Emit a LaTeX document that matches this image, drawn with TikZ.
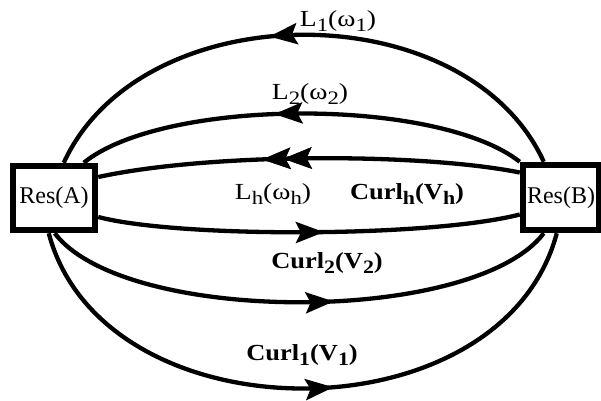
\documentclass[tikz,border=0pt]{standalone}
\usepackage{fontspec}
\usepackage{graphicx}
\setmainfont{Liberation Serif}
\usetikzlibrary{arrows.meta,decorations.markings,calc}
\newcommand\lowsub[1]{\raisebox{-5pt}{\fontsize{19}{19}\selectfont #1}}
\tikzset{
  resbox/.style={draw, line width=6.5pt, inner sep=0pt, font=\fontsize{24}{24}\selectfont},
  link/.style={line width=4.3pt},
  tipat/.style={postaction={decorate}, decoration={markings,
     mark=at position #1 with {\arrow{Stealth[length=28pt,width=21pt,inset=5pt]}}}},
  lbl/.style={inner sep=0pt, font=\fontsize{23}{23}\selectfont},
}
\begin{document}
\begin{tikzpicture}[x=1pt,y=-1pt]
\useasboundingbox (0,0) rectangle (601,400);
\fill[white] (0,0) rectangle (601,400);
\node[resbox, minimum width=82pt, minimum height=64pt] (A) at (54,198) {Res(A)};
\node[resbox, minimum width=76pt, minimum height=65pt] (B) at (561,197.5) {Res(B)};
% named end points on the boxes
\coordinate (a1) at ($(A.north west)+(54,0)$);
\coordinate (a2) at ($(A.north west)+(74,0)$);
\coordinate (a3) at ($(A.east)+(0,-21)$);
\coordinate (a4) at ($(A.east)+(0,19)$);
\coordinate (a5) at ($(A.south west)+(45,0)$);
\coordinate (a6) at ($(A.south west)+(39,0)$);
\coordinate (b1) at ($(B.north west)+(24,0)$);
\coordinate (b2) at ($(B.north west)+(0,0)$);
\coordinate (b3) at ($(B.west)+(0,-25)$);
\coordinate (b4) at ($(B.west)+(0,17)$);
\coordinate (b5) at ($(B.south west)+(24,0)$);
\coordinate (b6) at ($(B.south west)+(37,0)$);
% upper family (B to A)
\draw[link, tipat=0.56] (b1) .. controls +(-78,-170) and +(78,-170) .. (a1);
\draw[link, tipat=0.56] (b2) .. controls +(-83,-65) and +(80,-65) .. (a2);
\draw[link, tipat=0.61, tipat=0.56] (b3) .. controls +(-100,-20) and +(110,-24) .. (a3);
% lower family (A to B)
\draw[link, tipat=0.535] (a4) .. controls +(80,21) and +(-90,23) .. (b4);
\draw[link, tipat=0.566] (a5) .. controls +(70,92) and +(-70,92) .. (b5);
\draw[link, tipat=0.548] (a6) .. controls +(55,207) and +(-55,207) .. (b6);
% labels
\node[lbl] (l1) at (338,21) {\scalebox{1.2}[1]{L\lowsub{1}(ω\lowsub{1})}};
\node[lbl] (l2) at (310,94) {\scalebox{1.2}[1]{L\lowsub{2}(ω\lowsub{2})}};
\node[lbl] (lh) at (273,194) {\scalebox{1.2}[1]{L\lowsub{h}(ω\lowsub{h})}};
\node[lbl] (ch) at (407,194) {\scalebox{1.15}[1]{\bfseries Curl\lowsub{h}(V\lowsub{h})}};
\node[lbl] (c2) at (327,263) {\scalebox{1.15}[1]{\bfseries Curl\lowsub{2}(V\lowsub{2})}};
\node[lbl] (c1) at (302,355) {\scalebox{1.15}[1]{\bfseries Curl\lowsub{1}(V\lowsub{1})}};
\end{tikzpicture}
\end{document}
